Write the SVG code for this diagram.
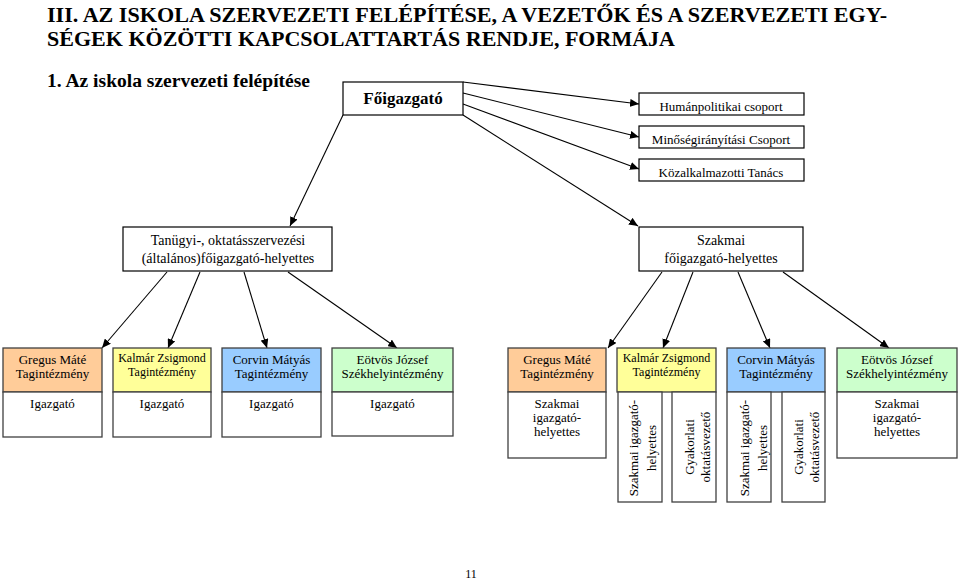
<svg xmlns="http://www.w3.org/2000/svg" width="960" height="581" viewBox="0 0 960 581">
<defs>
<marker id="arr" markerUnits="userSpaceOnUse" markerWidth="10" markerHeight="8" refX="9" refY="4" orient="auto">
<path d="M0,0 L9,4 L0,8 Z" fill="#000"/>
</marker>
</defs>
<rect width="960" height="581" fill="#fff"/>
<text font-family="Liberation Serif" font-size="22" font-weight="bold" x="47" y="22" textLength="840" lengthAdjust="spacingAndGlyphs">III. AZ ISKOLA SZERVEZETI FELÉPÍTÉSE, A VEZETŐK ÉS A SZERVEZETI EGY-</text>
<text font-family="Liberation Serif" font-size="22" font-weight="bold" x="47" y="46" textLength="628" lengthAdjust="spacingAndGlyphs">SÉGEK KÖZÖTTI KAPCSOLATTARTÁS RENDJE, FORMÁJA</text>
<text font-family="Liberation Serif" font-size="18" font-weight="bold" x="47" y="87" textLength="263" lengthAdjust="spacingAndGlyphs">1. Az iskola szervezeti felépítése</text>

<g id="connectors" stroke="#000" stroke-width="1.1" fill="none" marker-end="url(#arr)">
<line x1="463" y1="82" x2="639" y2="104"/>
<line x1="463" y1="93" x2="639" y2="137"/>
<line x1="463" y1="104" x2="639" y2="169"/>
<line x1="463" y1="115" x2="638" y2="226"/>
<line x1="343" y1="115" x2="290" y2="226"/>
<line x1="167" y1="272" x2="102" y2="348"/>
<line x1="200" y1="272" x2="168" y2="348"/>
<line x1="244" y1="272" x2="267" y2="348"/>
<line x1="288" y1="272" x2="397" y2="348"/>
<line x1="662" y1="272" x2="608" y2="348"/>
<line x1="693" y1="272" x2="663" y2="348"/>
<line x1="738" y1="272" x2="770" y2="348"/>
<line x1="783" y1="272" x2="889" y2="348"/>
</g>

<g id="top-boxes" fill="#fff" stroke="#000" stroke-width="1.2">
<rect id="foigazgato" x="343" y="82" width="120" height="33"/>
<rect id="human" x="639" y="93" width="165" height="22"/>
<rect id="minoseg" x="639" y="126" width="165" height="22"/>
<rect id="kozalk" x="639" y="159" width="165" height="22"/>
<rect id="tanugyi" x="123" y="227" width="209" height="44"/>
<rect id="szakmai" x="639" y="227" width="164" height="44"/>
</g>

<g id="unit-boxes" stroke="#404040" stroke-width="1.3">
<rect id="gregus1" x="3" y="348" width="99" height="44" fill="#FFCC99"/>
<rect x="3" y="392" width="99" height="45" fill="#fff"/>
<rect id="kalmar1" x="113" y="348" width="98" height="44" fill="#FFFF99"/>
<rect x="113" y="392" width="98" height="45" fill="#fff"/>
<rect id="corvin1" x="222" y="348" width="99" height="44" fill="#99CCFF"/>
<rect x="222" y="392" width="99" height="45" fill="#fff"/>
<rect id="eotvos1" x="332" y="348" width="121" height="44" fill="#CCFFCC"/>
<rect x="332" y="392" width="121" height="44" fill="#fff"/>
<rect id="gregus2" x="508" y="348" width="98" height="44" fill="#FFCC99"/>
<rect x="508" y="392" width="98" height="66" fill="#fff"/>
<rect id="kalmar2" x="617" y="348" width="99" height="44" fill="#FFFF99"/>
<rect x="618" y="392" width="44" height="110" fill="#fff"/>
<rect x="672" y="392" width="44" height="110" fill="#fff"/>
<rect id="corvin2" x="727" y="348" width="98" height="44" fill="#99CCFF"/>
<rect x="727" y="392" width="44" height="110" fill="#fff"/>
<rect x="782" y="392" width="43" height="110" fill="#fff"/>
<rect id="eotvos2" x="837" y="348" width="120" height="44" fill="#CCFFCC"/>
<rect x="837" y="392" width="120" height="66" fill="#fff"/>
</g>

<g id="labels" font-family="Liberation Serif" font-size="13" text-anchor="middle" fill="#000">
<text x="403" y="104" font-size="17" font-weight="bold">Főigazgató</text>
<text x="721" y="111">Humánpolitikai csoport</text>
<text x="721" y="144">Minőségirányítási Csoport</text>
<text x="721" y="177">Közalkalmazotti Tanács</text>
<text x="228" y="245" font-size="14">Tanügyi-, oktatásszervezési</text>
<text x="228" y="263" font-size="14">(általános)főigazgató-helyettes</text>
<text x="721" y="245" font-size="14">Szakmai</text>
<text x="721" y="263" font-size="14">főigazgató-helyettes</text>

<text x="52.5" y="364">Gregus Máté</text>
<text x="52.5" y="378">Tagintézmény</text>
<text x="52.5" y="408">Igazgató</text>
<text x="162" y="362" font-size="12">Kalmár Zsigmond</text>
<text x="162" y="376" font-size="12">Tagintézmény</text>
<text x="162" y="408">Igazgató</text>
<text x="271.5" y="364">Corvin Mátyás</text>
<text x="271.5" y="378">Tagintézmény</text>
<text x="271.5" y="408">Igazgató</text>
<text x="392.5" y="364">Eötvös József</text>
<text x="392.5" y="378">Székhelyintézmény</text>
<text x="392.5" y="408">Igazgató</text>

<text x="557" y="364">Gregus Máté</text>
<text x="557" y="378">Tagintézmény</text>
<text x="557" y="408">Szakmai</text>
<text x="557" y="422">igazgató-</text>
<text x="557" y="436">helyettes</text>
<text x="666.5" y="362" font-size="12">Kalmár Zsigmond</text>
<text x="666.5" y="376" font-size="12">Tagintézmény</text>
<text transform="translate(638,448) rotate(-90)">Szakmai igazgató-</text>
<text transform="translate(656,448) rotate(-90)">helyettes</text>
<text transform="translate(694,447) rotate(-90)">Gyakorlati</text>
<text transform="translate(710,447) rotate(-90)">oktatásvezető</text>
<text x="776" y="364">Corvin Mátyás</text>
<text x="776" y="378">Tagintézmény</text>
<text transform="translate(749,448) rotate(-90)">Szakmai igazgató-</text>
<text transform="translate(767,448) rotate(-90)">helyettes</text>
<text transform="translate(803,447) rotate(-90)">Gyakorlati</text>
<text transform="translate(819,447) rotate(-90)">oktatásvezető</text>
<text x="897" y="364">Eötvös József</text>
<text x="897" y="378">Székhelyintézmény</text>
<text x="897" y="408">Szakmai</text>
<text x="897" y="422">igazgató-</text>
<text x="897" y="436">helyettes</text>
<text x="471" y="578" font-size="12">11</text>
</g>
</svg>
